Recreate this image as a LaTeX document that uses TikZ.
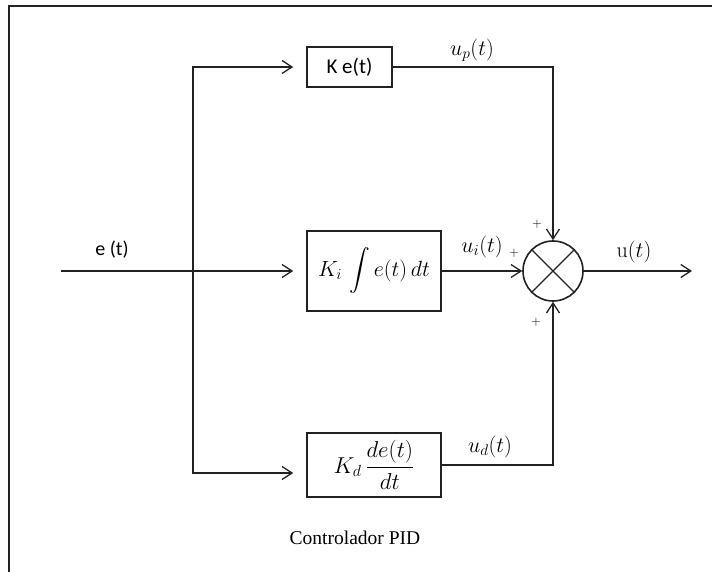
\RequirePackage{fix-cm}
\documentclass[tikz,border=0pt]{standalone}
\usepackage{amsmath}
\usepackage{fontspec}
\newfontfamily\calfont{Carlito}
\newfontfamily\serfont{Liberation Serif}
\usetikzlibrary{arrows.meta, positioning}
\definecolor{linecolor}{HTML}{222222}

\begin{document}
\begin{tikzpicture}[
    x=1pt, y=-1pt,
    every node/.style={inner sep=0pt},
    blk/.style={rectangle, draw=linecolor, line width=1.6pt, fill=white},
    lbl/.style={font=\fontsize{22}{24}\selectfont},
    sgn/.style={font=\fontsize{13}{14}\selectfont},
    wire/.style={draw=linecolor, line width=1.3pt},
    arr/.style={wire, -{Straight Barb[length=10pt, width=13pt]}},
]
\useasboundingbox (0,0) rectangle (712,572);

% ================================================ frame
\draw[linecolor, line width=2pt] (9,572) |- (712,6);

% ================================================ blocks
\node[blk, minimum width=85pt, minimum height=40pt,
      font=\calfont\fontsize{21}{24}\selectfont] (kp) at (349.5,67) {K e(t)};
\node[blk, minimum width=134pt, minimum height=80pt,
      font=\fontsize{22}{24}\selectfont] (ki) at (374,271) {$K_i\,\displaystyle\int e(t)\,dt$};
\node[blk, minimum width=134pt, minimum height=64pt,
      font=\fontsize{23}{25}\selectfont] (kd) at (374,465) {$K_d\,\dfrac{de(t)}{dt}$};
\node[circle, draw=linecolor, line width=1.6pt, minimum size=60pt] (sum) at (553,271) {};
\draw[wire] (sum.north west) -- (sum.south east) (sum.north east) -- (sum.south west);

\coordinate (in) at (61,271);
\coordinate (br) at (193,271);
\coordinate (out) at (692,271);

% ================================================ input and branches
\draw[arr, shorten >=13pt] (in) -- (ki.west);
\draw[arr, shorten >=13pt] (br) |- (kp.west);
\draw[arr, shorten >=13pt] (br) |- ([yshift=-8pt]kd.west);

% ================================================ into the sum
\draw[arr] (kp.east) -| (sum.north);
\draw[arr] (ki.east) -- (sum.west);
\draw[arr] (kd.east) -| (sum.south);
\draw[arr] (sum.east) -- (out);

% ================================================ labels
\node[font=\calfont\fontsize{20}{22}\selectfont] (e) at (112,250) {e (t)};
\node[lbl] (up) at (472,50) {$u_p(t)$};
\node[lbl] (ui) at (482,247) {$u_i(t)$};
\node[lbl] (ud) at (490,447) {$u_d(t)$};
\node[lbl] (u) at (634,252) {$\mathrm{u}(t)$};
\node[sgn] (pt) at (537,224) {$+$};
\node[sgn] (pl) at (514,253) {$+$};
\node[sgn] (pb) at (536,322) {$+$};
\node[font=\serfont\fontsize{19.5}{22}\selectfont] (cap) at (355,538) {Controlador PID};

\end{tikzpicture}
\end{document}
